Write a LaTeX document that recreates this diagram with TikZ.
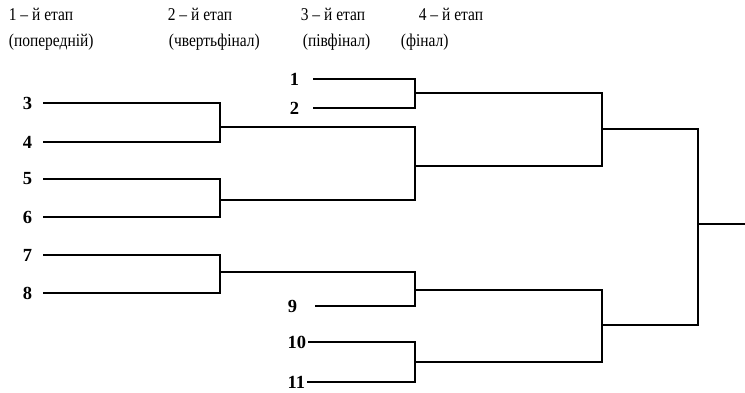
\documentclass[tikz,border=0pt]{standalone}
\usepackage{fontspec}
\setmainfont{Liberation Serif}
\newfontfamily\narrowserif[FakeStretch=0.86]{Liberation Serif}
\begin{document}
\begin{tikzpicture}[x=1pt,y=-1pt,
  line width=1.8pt, line join=miter,
  hdr/.style={anchor=base west, inner sep=0pt, font=\narrowserif\fontsize{18}{20}\selectfont},
  seed/.style={anchor=east, inner sep=0pt, font=\fontsize{18.5}{20}\selectfont\bfseries}]
\useasboundingbox (0,0) rectangle (745,392);
% headers
\node[hdr] (h1a) at (8,20) {1 – й етап};
\node[hdr] (h1b) at (8,46) {(попередній)};
\node[hdr] (h2a) at (167,20) {2 – й етап};
\node[hdr] (h2b) at (168,46) {(чвертьфінал)};
\node[hdr] (h3a) at (300,20) {3 – й етап};
\node[hdr] (h3b) at (302,46) {(півфінал)};
\node[hdr] (h4a) at (418,20) {4 – й етап};
\node[hdr] (h4b) at (400,46) {(фінал)};
% seed labels
\node[seed] (n1) at (300,79) {1};
\node[seed] (n2) at (300,108) {2};
\node[seed] (n3) at (33,103) {3};
\node[seed] (n4) at (33,142) {4};
\node[seed] (n5) at (33,179) {5};
\node[seed] (n6) at (33,217) {6};
\node[seed] (n7) at (33,255) {7};
\node[seed] (n8) at (33,293) {8};
\node[seed] (n9) at (298,306) {9};
\node[seed] (n10) at (307,342) {10};
\node[seed] (n11) at (306,382) {11};
% line starts
\coordinate (s1) at (313,79);
\coordinate (s2) at (313,108);
\coordinate (s3) at (43,103);
\coordinate (s4) at (43,142);
\coordinate (s5) at (43,179);
\coordinate (s6) at (43,217);
\coordinate (s7) at (43,255);
\coordinate (s8) at (43,293);
\coordinate (s9) at (315,306);
\coordinate (s10) at (308,342);
\coordinate (s11) at (307,382);
% junctions
\coordinate (m34) at (220,127);
\coordinate (m56) at (220,200);
\coordinate (m78) at (220,272);
\coordinate (q12) at (415,93);
\coordinate (qA) at (415,166);
\coordinate (qB) at (415,290);
\coordinate (q1011) at (415,362);
\coordinate (sA) at (602,129);
\coordinate (sB) at (602,325);
\coordinate (f) at (698,224);
\coordinate (fin) at (745,224);
% brackets
\draw (s1) -| (q12) |- (s2);
\draw (s3) -| (m34) |- (s4);
\draw (s5) -| (m56) |- (s6);
\draw (s7) -| (m78) |- (s8);
\draw (m34) -| (qA) |- (m56);
\draw (m78) -| (qB) |- (s9);
\draw (s10) -| (q1011) |- (s11);
\draw (q12) -| (sA) |- (qA);
\draw (qB) -| (sB) |- (q1011);
\draw (sA) -| (f) |- (sB);
\draw (f) -- (fin);
\end{tikzpicture}
\end{document}
